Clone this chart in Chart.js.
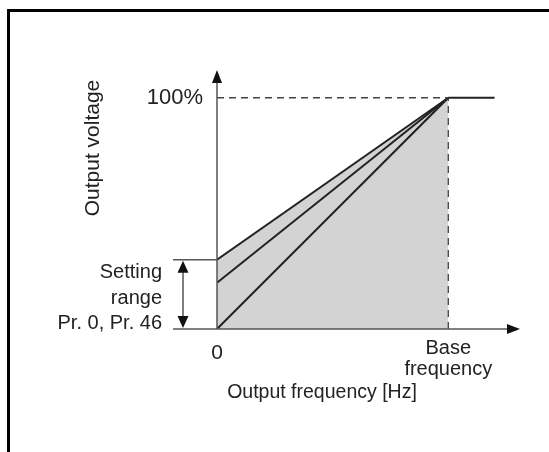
<!DOCTYPE html>
<html>
<head>
<meta charset="utf-8">
<script src="https://cdn.jsdelivr.net/npm/chart.js@4"></script>
<style>
  body { margin: 0; background: #fff; }
  canvas { display: block; }
</style>
</head>
<body>
<canvas id="vfChart" width="549" height="452"></canvas>
<script>
// V/F pattern - torque boost
const freqPoints = [0, 1];          // 0 Hz and base frequency (fraction of base)
const boostLevels = [30, 20, 0];    // output voltage % at 0 Hz
const ratedVoltage = 100;           // % at base frequency
const flatEnd = 1.2;                // line stays flat above base frequency
const xTickLabels = ['0', ['Base', 'frequency']];
const yTickLabel = '100%';
const rangeLabel = ['Setting', 'range', 'Pr. 0, Pr. 46'];
const xTitle = 'Output frequency [Hz]';
const yTitle = 'Output voltage';

const FONT = '"Liberation Sans", Arial, sans-serif';
const INK = '#222';
const AXIS = '#555';

const slopeSets = boostLevels.map((b, i) => ({
    data: [{x: freqPoints[0], y: b}, {x: freqPoints[1], y: ratedVoltage}],
    borderColor: INK,
    borderWidth: 2,
    pointRadius: 0,
    fill: i === 0 ? 'origin' : false,
    backgroundColor: '#d3d3d3',
    order: i === 0 ? 5 : 1
}));

const dashed = {
    borderColor: '#444',
    borderWidth: 1.3,
    borderDash: [7, 5],
    pointRadius: 0,
    fill: false
};

const datasets = [
    ...slopeSets,
    {data: [{x: freqPoints[1], y: ratedVoltage}, {x: flatEnd, y: ratedVoltage}], borderColor: INK, borderWidth: 2, pointRadius: 0, fill: false},
    {...dashed, data: [{x: 0, y: ratedVoltage}, {x: freqPoints[1], y: ratedVoltage}]},
    {...dashed, data: [{x: freqPoints[1], y: 0}, {x: freqPoints[1], y: ratedVoltage}]}
];

function tri(ctx, tipX, tipY, dir, w, h) {
    ctx.beginPath();
    if (dir === 'up') { ctx.moveTo(tipX, tipY); ctx.lineTo(tipX - w / 2, tipY + h); ctx.lineTo(tipX + w / 2, tipY + h); }
    if (dir === 'down') { ctx.moveTo(tipX, tipY); ctx.lineTo(tipX - w / 2, tipY - h); ctx.lineTo(tipX + w / 2, tipY - h); }
    if (dir === 'right') { ctx.moveTo(tipX, tipY); ctx.lineTo(tipX - h, tipY - w / 2); ctx.lineTo(tipX - h, tipY + w / 2); }
    ctx.closePath();
    ctx.fill();
}

const decor = {
    id: 'decor',
    beforeDatasetsDraw(chart) {
        const ctx = chart.ctx;
        ctx.save();
        // frame
        ctx.strokeStyle = '#000';
        ctx.lineWidth = 3;
        ctx.beginPath();
        ctx.moveTo(8.5, 460); ctx.lineTo(8.5, 10.5); ctx.lineTo(560, 10.5);
        ctx.stroke();
        ctx.restore();
    },
    afterDatasetsDraw(chart) {
        const ctx = chart.ctx;
        const x = chart.scales.x, y = chart.scales.y;
        const ca = chart.chartArea;
        const x0 = x.getPixelForValue(0), y0 = y.getPixelForValue(0);
        const xB = x.getPixelForValue(freqPoints[1]);
        const yR = y.getPixelForValue(ratedVoltage);
        const yTop = y.getPixelForValue(boostLevels[0]);
        ctx.save();
        // axes
        ctx.strokeStyle = AXIS;
        ctx.fillStyle = '#111';
        ctx.lineWidth = 1.5;
        ctx.beginPath();
        ctx.moveTo(x0, y0); ctx.lineTo(x0, ca.top + 8);
        ctx.moveTo(x0, y0); ctx.lineTo(ca.right - 8, y0);
        ctx.stroke();
        tri(ctx, x0, ca.top, 'up', 10, 13);
        tri(ctx, ca.right, y0, 'right', 10, 13);

        // setting range marker
        const ax = x0 - 34;
        ctx.beginPath();
        ctx.moveTo(x0 - 44, yTop); ctx.lineTo(x0, yTop);
        ctx.moveTo(x0 - 44, y0); ctx.lineTo(x0, y0);
        ctx.moveTo(ax, yTop + 8); ctx.lineTo(ax, y0 - 8);
        ctx.stroke();
        tri(ctx, ax, yTop + 1, 'up', 11, 12);
        tri(ctx, ax, y0 - 1, 'down', 11, 12);

        // texts
        ctx.fillStyle = INK;
        ctx.textBaseline = 'middle';
        ctx.textAlign = 'right';
        ctx.font = '22px ' + FONT;
        ctx.fillText(yTickLabel, x0 - 14, yR);
        ctx.font = '20px ' + FONT;
        rangeLabel.forEach((t, i) => ctx.fillText(t, x0 - 55, yTop + 13 + i * 25.5));

        ctx.textAlign = 'center';
        ctx.font = '21px ' + FONT;
        ctx.fillText(xTickLabels[0], x0, y0 + 24);
        ctx.font = '20px ' + FONT;
        xTickLabels[1].forEach((t, i) => ctx.fillText(t, xB, y0 + 19 + i * 21));
        ctx.font = '19.5px ' + FONT;
        ctx.fillText(xTitle, 322, y0 + 64);

        ctx.font = '21px ' + FONT;
        ctx.translate(93, 148);
        ctx.rotate(-Math.PI / 2);
        ctx.fillText(yTitle, 0, 0);
        ctx.restore();
    }
};

new Chart(document.getElementById('vfChart').getContext('2d'), {
    type: 'line',
    data: {datasets: datasets},
    options: {
        responsive: false,
        animation: false,
        layout: {padding: {left: 217, right: 29, top: 70, bottom: 123}},
        plugins: {legend: {display: false}, tooltip: {enabled: false}},
        scales: {
            x: {type: 'linear', min: 0, max: 1.31, display: false},
            y: {type: 'linear', min: 0, max: 112, display: false}
        }
    },
    plugins: [decor]
});
</script>
</body>
</html>
